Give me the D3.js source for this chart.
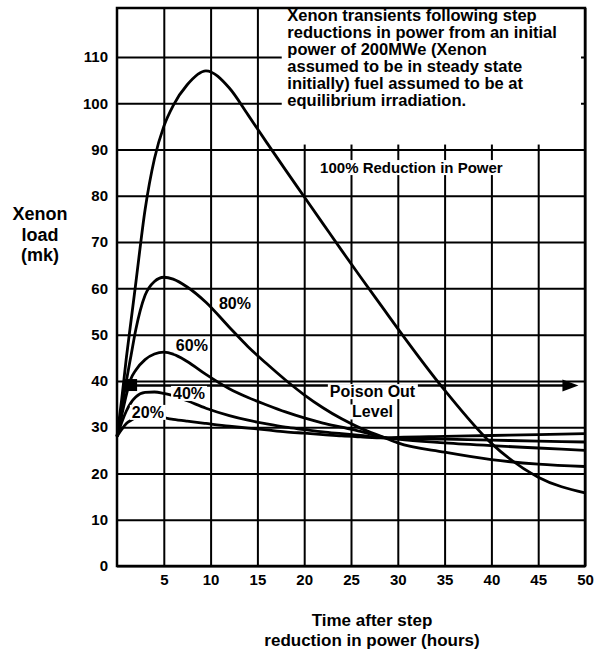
<!DOCTYPE html>
<html>
<head>
<meta charset="utf-8">
<script src="https://cdn.jsdelivr.net/npm/d3@7"></script>
<style>
  html, body { margin: 0; padding: 0; background: #fff; }
  svg { display: block; }
  text { font-family: "Liberation Sans", Arial, Helvetica, sans-serif; font-weight: bold; fill: #000; }
</style>
</head>
<body>
<svg id="chart" width="598" height="657"></svg>
<script>
// Hours after the step reduction in power
const hours = [0, 0.5, 1, 1.5, 2, 3, 4, 5, 6, 7.5, 9.5, 12, 14, 16, 18, 20, 22, 24, 26, 28.5, 30, 35, 40, 45, 50];

// Xenon load (mk) for each size of power reduction
const load100 = [28, 36, 45, 53, 61, 77, 88, 95, 99.5, 104, 107, 103.3, 97.5, 91.5, 85.6, 79.8, 74, 68.2, 62.5, 55.5, 51.3, 38, 26.5, 19.2, 15.8];
const load80  = [28, 34, 40, 45.5, 51, 58.5, 61.5, 62.4, 62, 60.3, 57, 51.6, 47.4, 43.7, 40.2, 37, 34.2, 31.8, 29.8, 27.8, 26.6, 24.6, 23, 22, 21.5];
const load60  = [28, 32.5, 37, 40.5, 42.3, 44.6, 45.8, 46.2, 45.8, 44.2, 41.4, 38.3, 36.4, 34.8, 33.3, 32, 30.9, 30, 29.1, 27.8, 27.4, 26.6, 26, 25.5, 25];
const load40  = [28, 31, 33.5, 35.3, 36.5, 37.5, 37.6, 37.3, 36.8, 35.7, 34.1, 32.5, 31.5, 30.7, 30, 29.5, 29, 28.6, 28.2, 27.7, 27.6, 27.4, 27.2, 27, 26.8];
const load20  = [28, 29.5, 30.8, 31.5, 32, 32.2, 32.1, 32, 31.7, 31.3, 30.8, 30.2, 29.8, 29.4, 29, 28.7, 28.4, 28.1, 27.9, 27.7, 27.8, 28, 28.2, 28.4, 28.6];

const seriesNames = ["100%", "80%", "60%", "40%", "20%"];
const seriesLoads = [load100, load80, load60, load40, load20];

// Poison-out level and the span of the arrow that marks it
const poisonLevel = 39;
const poisonSpan = [1.4, 49.3];

// Axis ticks
const xTicks = [5, 10, 15, 20, 25, 30, 35, 40, 45, 50];
const yTicks = [0, 10, 20, 30, 40, 50, 60, 70, 80, 90, 100, 110];

// Text blocks
const noteLines = [
  "Xenon transients following step",
  "reductions in power from an initial",
  "power of 200MWe (Xenon",
  "assumed to be in steady state",
  "initially) fuel assumed to be at",
  "equilibrium irradiation."
];
const yTitleLines = ["Xenon", "load", "(mk)"];
const xTitleLines = ["Time after step", "reduction in power (hours)"];

// ---- layout ----
const svg = d3.select("#chart");
const plotL = 117, plotR = 585, plotB = 566, plotT = 8;

const x = d3.scaleLinear().domain([0, 50]).range([plotL, plotR]);
const y = d3.scaleLinear().domain([0, 110]).range([plotB, 57]);

// grid + tick labels through d3 axes
const xAxis = svg.append("g")
  .attr("transform", `translate(0,${plotB})`)
  .call(d3.axisBottom(x).tickValues(xTicks).tickSize(-(plotB - plotT)).tickPadding(8).tickSizeOuter(0));
xAxis.select(".domain").remove();
xAxis.selectAll("line").attr("stroke", "#000").attr("stroke-width", 2);
xAxis.selectAll("text")
  .style("font-family", '"Liberation Sans", Arial, sans-serif')
  .style("font-weight", "bold").style("font-size", "15px").attr("fill", "#000");

const yAxis = svg.append("g")
  .attr("transform", `translate(${plotL},0)`)
  .call(d3.axisLeft(y).tickValues(yTicks).tickSize(-(plotR - plotL)).tickPadding(9).tickSizeOuter(0));
yAxis.select(".domain").remove();
yAxis.selectAll("line").attr("stroke", "#000").attr("stroke-width", 2);
yAxis.selectAll("text")
  .style("font-family", '"Liberation Sans", Arial, sans-serif')
  .style("font-weight", "bold").style("font-size", "15px").attr("fill", "#000");

// white panel for the note, leaving short grid stubs along its edges
const noteLeft = x(17.6);
svg.append("rect")
  .attr("x", noteLeft).attr("y", plotT)
  .attr("width", plotR - 4 - noteLeft)
  .attr("height", y(90) - 5 - plotT)
  .attr("fill", "#fff");

// plot frame
svg.append("rect")
  .attr("x", plotL).attr("y", plotT)
  .attr("width", plotR - plotL).attr("height", plotB - plotT)
  .attr("fill", "none").attr("stroke", "#000").attr("stroke-width", 2.5);

// note text
const note = svg.append("text").style("font-size", "16.5px");
noteLines.forEach((t, i) => {
  note.append("tspan").attr("x", x(18.2)).attr("y", 21 + i * 17).text(t);
});

// curves
const line = d3.line()
  .x(d => x(d[0]))
  .y(d => y(d[1]))
  .curve(d3.curveMonotoneX);

svg.append("g").selectAll("path")
  .data(seriesLoads.map((vals, i) => ({ name: seriesNames[i], pts: hours.map((h, j) => [h, vals[j]]) })))
  .join("path")
  .attr("d", d => line(d.pts))
  .attr("fill", "none")
  .attr("stroke", "#000")
  .attr("stroke-width", 2.8)
  .attr("stroke-linejoin", "round");

// poison-out level arrow
const py = y(poisonLevel);
svg.append("line")
  .attr("x1", x(poisonSpan[0])).attr("x2", x(poisonSpan[1]) - 12)
  .attr("y1", py).attr("y2", py)
  .attr("stroke", "#000").attr("stroke-width", 2.5);
svg.append("rect")
  .attr("x", x(poisonSpan[0]) - 7).attr("y", py - 6.5)
  .attr("width", 14).attr("height", 12)
  .attr("fill", "#000");
const tipX = x(poisonSpan[1]);
svg.append("path")
  .attr("d", `M${tipX},${py} L${tipX - 16},${py - 6} L${tipX - 16},${py + 6} Z`)
  .attr("fill", "#000");

// labels with white backing
function backedLabel(tx, ty, str, size, anchor) {
  const g = svg.append("g");
  const bg = g.append("rect").attr("fill", "#fff");
  const t = g.append("text")
    .attr("x", tx).attr("y", ty)
    .attr("text-anchor", anchor)
    .style("font-size", size + "px")
    .text(str);
  const b = t.node().getBBox();
  bg.attr("x", b.x - 2).attr("y", b.y + 1).attr("width", b.width + 4).attr("height", b.height - 2);
  return t;
}

backedLabel(x(21.7), y(86) + 5, "100% Reduction in Power", 15, "start");
backedLabel(x(12.6), y(56.8) + 6, "80%", 16, "middle");
backedLabel(x(8.0), y(47.7) + 6, "60%", 16, "middle");
backedLabel(x(7.7), y(37.4) + 6, "40%", 16, "middle");
backedLabel(x(3.3), y(33.3) + 6, "20%", 16, "middle");
backedLabel(x(27.3), y(37.8) + 6, "Poison Out", 16, "middle");
backedLabel(x(27.3), y(33.4) + 6, "Level", 16, "middle");

// axis titles
const yt = svg.append("text").attr("text-anchor", "middle").style("font-size", "18px");
yTitleLines.forEach((t, i) => {
  yt.append("tspan").attr("x", 40).attr("y", 220 + i * 20.5).text(t);
});
const xt = svg.append("text").attr("text-anchor", "middle").style("font-size", "17px");
xTitleLines.forEach((t, i) => {
  xt.append("tspan").attr("x", 372).attr("y", 626 + i * 19.5).text(t);
});
</script>
</body>
</html>
